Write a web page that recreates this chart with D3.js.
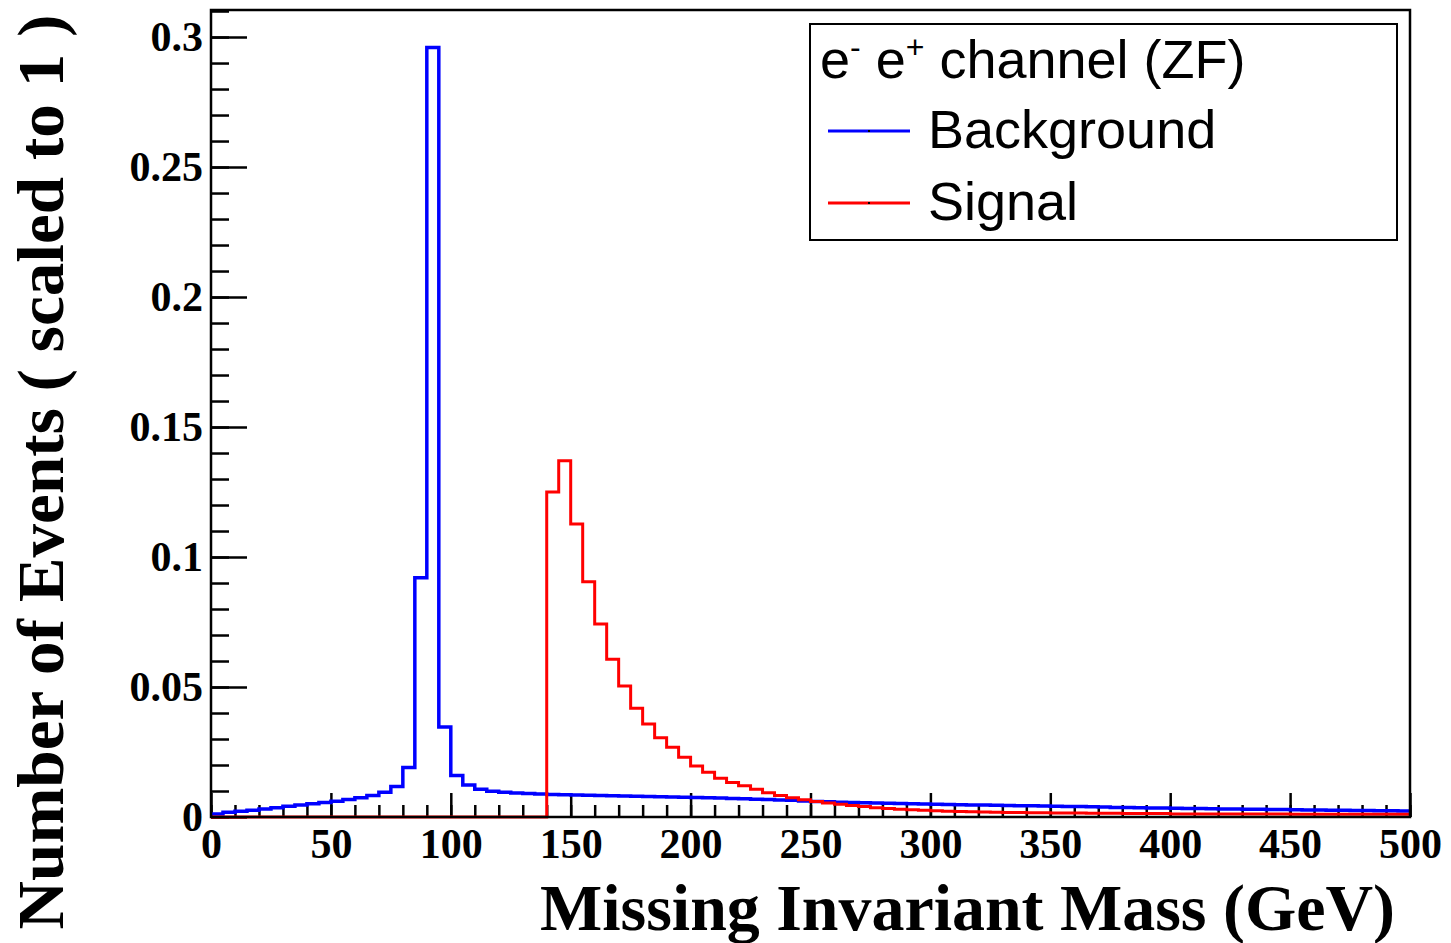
<!DOCTYPE html>
<head>
<meta charset="utf-8">
<title>Missing Invariant Mass</title>
<script type="text/javascript" src="https://d3js.org/d3.v7.min.js"></script>
<style>
body { margin: 0; background: #fff; }
</style>
</head>
<body>
<div id="chart"></div>

<script>
// histogram bins: 5 GeV wide, 0 - 500 GeV
var binWidth = 5;

// background (blue), one value per bin
var background = [
  0.0012, 0.0018, 0.0022, 0.0026, 0.0031, 0.0036, 0.0041, 0.0046, 0.0051, 0.0056,
  0.0061, 0.0067, 0.0074, 0.0083, 0.0095, 0.0117, 0.0190, 0.0920, 0.2960, 0.0346,
  0.0160, 0.0123, 0.0107, 0.0099, 0.0095, 0.0092, 0.0090, 0.0088, 0.0087, 0.0086,
  0.0085, 0.0084, 0.0083, 0.0082, 0.0081, 0.0080, 0.0079, 0.0078, 0.0077, 0.0076,
  0.0075, 0.0074, 0.0073, 0.0071, 0.0070, 0.0068, 0.0067, 0.0065, 0.0064, 0.0062,
  0.0060, 0.0059, 0.0057, 0.0056, 0.0055, 0.0054, 0.0053, 0.0052, 0.0051, 0.0050,
  0.0049, 0.0048, 0.0047, 0.0046, 0.0046, 0.0045, 0.0044, 0.0043, 0.0043, 0.0042,
  0.0041, 0.0040, 0.0040, 0.0039, 0.0038, 0.0037, 0.0037, 0.0036, 0.0035, 0.0035,
  0.0034, 0.0033, 0.0033, 0.0032, 0.0031, 0.0031, 0.0030, 0.0030, 0.0029, 0.0029,
  0.0028, 0.0027, 0.0027, 0.0026, 0.0026, 0.0025, 0.0025, 0.0024, 0.0024, 0.0023
];

// signal (red), one value per bin
var signal = [
  0, 0, 0, 0, 0, 0, 0, 0, 0, 0,
  0, 0, 0, 0, 0, 0, 0, 0, 0, 0,
  0, 0, 0, 0, 0, 0, 0, 0, 0.1250, 0.1370,
  0.1127, 0.0905, 0.0742, 0.0607, 0.0504, 0.0418, 0.0358, 0.0305, 0.0268, 0.0230,
  0.0196, 0.0172, 0.0149, 0.0133, 0.0120, 0.0107, 0.0093, 0.0083, 0.0074, 0.0066,
  0.0060, 0.0054, 0.0049, 0.0044, 0.0040, 0.0036, 0.0033, 0.0030, 0.0028, 0.0026,
  0.0024, 0.0022, 0.0021, 0.0020, 0.0019, 0.0018, 0.0017, 0.0017, 0.0016, 0.0016,
  0.0015, 0.0015, 0.0015, 0.0014, 0.0014, 0.0014, 0.0013, 0.0013, 0.0013, 0.0013,
  0.0012, 0.0012, 0.0012, 0.0012, 0.0012, 0.0012, 0.0012, 0.0012, 0.0012, 0.0012,
  0.0011, 0.0011, 0.0011, 0.0011, 0.0011, 0.0011, 0.0011, 0.0011, 0.0011, 0.0011
];

// tick values and labels
var xTicks = [0, 50, 100, 150, 200, 250, 300, 350, 400, 450, 500];
var xTickLabels = ["0", "50", "100", "150", "200", "250", "300", "350", "400", "450", "500"];
var yTicks = [0, 0.05, 0.1, 0.15, 0.2, 0.25, 0.3];
var yTickLabels = ["0", "0.05", "0.1", "0.15", "0.2", "0.25", "0.3"];

var legendTitle = "channel (ZF)";
var seriesNames = ["Background", "Signal"];
var seriesColors = ["#0000ff", "#ff0000"];

// frame of the plot
var margin = {top: 10, left: 211};
var width = 1199;
var height = 807;

var svg = d3.select("#chart")
  .append("svg")
    .attr("width", 1451)
    .attr("height", 943);

var g = svg.append("g")
    .attr("transform", "translate(" + margin.left + "," + margin.top + ")");

// scales
var xScale = d3.scaleLinear().domain([0, 500]).range([0, width]);
var yScale = d3.scaleLinear().domain([0, 0.3104]).range([height, 0]);

var serif = "'Liberation Serif', 'Times New Roman', serif";
var sans = "'Liberation Sans', Arial, sans-serif";

//*******************************
// axes (ticks pointing inside)
//*******************************

// x minor ticks every 10 GeV
g.append("g")
    .attr("transform", "translate(0," + height + ")")
    .call(d3.axisBottom(xScale).tickValues(d3.range(0, 501, 10)).tickSize(-12).tickFormat(""))
    .call(function(s) { s.select(".domain").remove(); });

// x major ticks
var xAxis = g.append("g")
    .attr("transform", "translate(0," + height + ")")
    .call(d3.axisBottom(xScale)
      .tickValues(xTicks)
      .tickSize(-24)
      .tickPadding(11)
      .tickFormat(function(d, i) { return xTickLabels[i]; }));
xAxis.select(".domain").remove();

// y minor ticks every 0.01
g.append("g")
    .call(d3.axisLeft(yScale).tickValues(d3.range(0, 32).map(function(i) { return i / 100; })).tickSize(-18).tickFormat(""))
    .call(function(s) { s.select(".domain").remove(); });

// y major ticks
var yAxis = g.append("g")
    .call(d3.axisLeft(yScale)
      .tickValues(yTicks)
      .tickSize(-36)
      .tickPadding(8)
      .tickFormat(function(d, i) { return yTickLabels[i]; }));
yAxis.select(".domain").remove();

g.selectAll(".tick line")
    .attr("stroke", "#000")
    .attr("stroke-width", 2.5);

g.selectAll(".tick text")
    .style("font-family", serif)
    .style("font-weight", "bold")
    .style("font-size", "42px")
    .attr("fill", "#000");

//*******************************
// histograms as step lines
//*******************************
function stepPoints(values) {
  var pts = values.map(function(v, i) { return [i * binWidth, v]; });
  pts.push([values.length * binWidth, values[values.length - 1]]);
  return pts;
}

var stepLine = d3.line()
    .x(function(d) { return xScale(d[0]); })
    .y(function(d) { return yScale(d[1]); })
    .curve(d3.curveStepAfter);

g.append("path")
    .datum(stepPoints(background))
    .attr("fill", "none")
    .attr("stroke", seriesColors[0])
    .attr("stroke-width", 3.5)
    .attr("d", stepLine);

g.append("path")
    .datum(stepPoints(signal))
    .attr("fill", "none")
    .attr("stroke", seriesColors[1])
    .attr("stroke-width", 3)
    .attr("d", stepLine);

// frame
g.append("rect")
    .attr("x", 0)
    .attr("y", 0)
    .attr("width", width)
    .attr("height", height)
    .attr("fill", "none")
    .attr("stroke", "#000")
    .attr("stroke-width", 2.5);

//**********************
// axis titles
//**********************
svg.append("text")
    .attr("x", 1395)
    .attr("y", 930)
    .attr("text-anchor", "end")
    .attr("textLength", 855)
    .attr("lengthAdjust", "spacingAndGlyphs")
    .style("font-family", serif)
    .style("font-weight", "bold")
    .style("font-size", "66px")
    .text("Missing Invariant Mass (GeV)");

svg.append("text")
    .attr("transform", "translate(63,472) rotate(-90)")
    .attr("text-anchor", "middle")
    .attr("textLength", 915)
    .attr("lengthAdjust", "spacingAndGlyphs")
    .style("font-family", serif)
    .style("font-weight", "bold")
    .style("font-size", "66px")
    .text("Number of Events ( scaled to 1 )");

//**********************
// legend
//**********************
svg.append("rect")
    .attr("x", 810)
    .attr("y", 24)
    .attr("width", 587)
    .attr("height", 216)
    .attr("fill", "#fff")
    .attr("stroke", "#000")
    .attr("stroke-width", 2);

var title = svg.append("text")
    .attr("x", 820)
    .attr("y", 78)
    .style("font-family", sans)
    .style("font-size", "54px");
title.append("tspan").text("e");
title.append("tspan").attr("dy", -20).style("font-size", "32px").text("-");
title.append("tspan").attr("dy", 20).text(" e");
title.append("tspan").attr("dy", -20).style("font-size", "32px").text("+");
title.append("tspan").attr("dy", 20).text(" " + legendTitle);

seriesNames.forEach(function(name, i) {
  var ly = 131 + i * 72;
  svg.append("line")
      .attr("x1", 828)
      .attr("x2", 910)
      .attr("y1", ly)
      .attr("y2", ly)
      .attr("stroke", seriesColors[i])
      .attr("stroke-width", 3);
  svg.append("rect")
      .attr("x", 868)
      .attr("y", ly - 1)
      .attr("width", 2)
      .attr("height", 2)
      .attr("fill", "#000");
  svg.append("text")
      .attr("x", 928)
      .attr("y", ly + 17)
      .style("font-family", sans)
      .style("font-size", "54px")
      .text(name);
});
</script>
</body>
